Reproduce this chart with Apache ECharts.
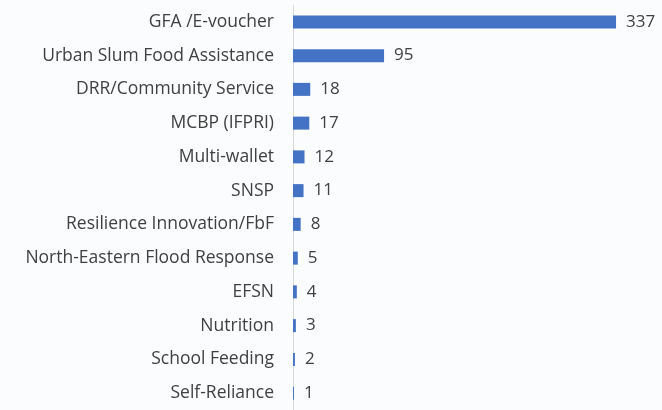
<!DOCTYPE html>
<html><head><meta charset="utf-8">
<script src="https://cdn.jsdelivr.net/npm/echarts@6/dist/echarts.min.js"></script>
<style>html,body{margin:0;padding:0;background:#fff}#c{width:662px;height:410px}</style>
</head><body><div id="c"></div>
<script>
const categories = ["GFA /E-voucher","Urban Slum Food Assistance","DRR/Community Service","MCBP (IFPRI)","Multi-wallet","SNSP","Resilience Innovation/FbF","North-Eastern Flood Response","EFSN","Nutrition","School Feeding","Self-Reliance"];
const values = [337,95,18,17,12,11,8,5,4,3,2,1];
const chart = echarts.init(document.getElementById('c'));
chart.setOption({
  backgroundColor: '#fbfcfd',
  animation: false,
  grid: {left: 293, right: 33.5, top: 5, height: 410, containLabel: false},
  xAxis: {type: 'value', min: 0, max: 350, show: false},
  yAxis: {
    type: 'category', data: categories, inverse: true,
    axisLine: {show: true, lineStyle: {color: '#d9d9d9', width: 1}},
    axisTick: {show: false},
    axisLabel: {color: '#404040', fontFamily: 'Open Sans', fontSize: 17.5, margin: 19}
  },
  series: [{
    type: 'bar', data: values, barWidth: 13,
    itemStyle: {color: '#4472C4'},
    label: {show: true, position: 'right', distance: 10, color: '#404040', fontFamily: 'Open Sans', fontSize: 17}
  }]
});
</script></body></html>
